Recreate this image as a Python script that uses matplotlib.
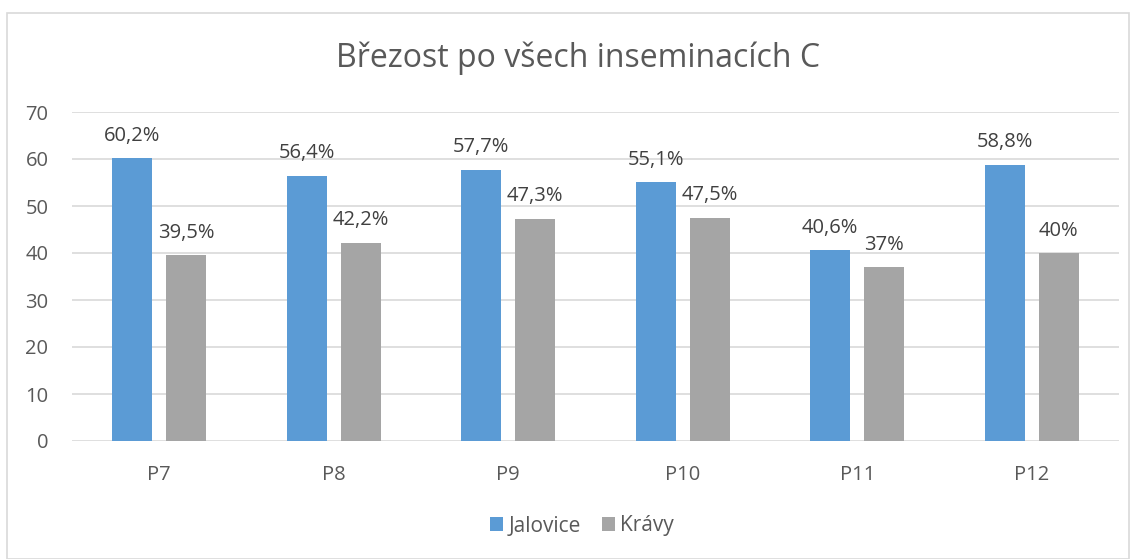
import matplotlib.pyplot as plt
import numpy as np
from matplotlib.patches import Rectangle

categories = ["P7", "P8", "P9", "P10", "P11", "P12"]
jalovice = [60.2, 56.4, 57.7, 55.1, 40.6, 58.8]
kravy = [39.5, 42.2, 47.3, 47.5, 37, 40]
jalovice_labels = ["60,2%", "56,4%", "57,7%", "55,1%", "40,6%", "58,8%"]
kravy_labels = ["39,5%", "42,2%", "47,3%", "47,5%", "37%", "40%"]

plt.rcParams["font.family"] = ["Open Sans", "DejaVu Sans"]
text_color = "#595959"
grid_color = "#d9d9d9"

fig = plt.figure(figsize=(11.36, 5.59), dpi=100)
fig.patches.append(Rectangle((7 / 1136, 0.0), 1122 / 1136, 1 - 13 / 559,
                             transform=fig.transFigure, fill=False,
                             edgecolor=grid_color, linewidth=1.2))
ax = fig.add_axes([72 / 1136, 1 - 441 / 559, 1047 / 1136, 329 / 559])

x = np.arange(len(categories))
w = 0.229
off = 0.155
b1 = ax.bar(x - off, jalovice, w, color="#5b9bd5", label="Jalovice", zorder=3)
b2 = ax.bar(x + off, kravy, w, color="#a5a5a5", label="Krávy", zorder=3)
ax.bar_label(b1, labels=jalovice_labels, padding=9, fontsize=14.5, color="#404040")
ax.bar_label(b2, labels=kravy_labels, padding=9, fontsize=14.5, color="#404040")

ax.set_xlim(-0.5, len(categories) - 0.5)
ax.set_ylim(0, 70)
ax.set_yticks(range(0, 71, 10))
ax.set_xticks(x)
ax.set_xticklabels(categories)
ax.grid(axis="y", color=grid_color, linewidth=1.2, zorder=0)
for s in ax.spines.values():
    s.set_visible(False)
ax.tick_params(length=0, labelsize=14.5, colors=text_color)
ax.tick_params(axis="x", pad=17)
ax.tick_params(axis="y", pad=17)

fig.text(578 / 1136, 1 - 58 / 559, "Březost po všech inseminacích C",
         ha="center", va="center", fontsize=23, color=text_color)

fig.legend(handles=[b1, b2], loc="center", bbox_to_anchor=(582 / 1136, 1 - 526 / 559),
           ncol=2, frameon=False, fontsize=15, labelcolor=text_color,
           handlelength=0.65, handleheight=0.65, handletextpad=0.25, columnspacing=1.0)

fig.savefig("out.png", dpi=100)
